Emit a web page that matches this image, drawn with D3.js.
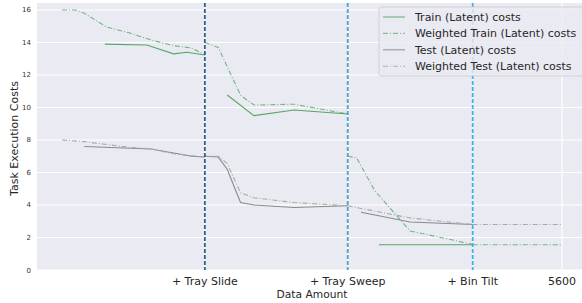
<!DOCTYPE html>
<html>
<head>
<meta charset="utf-8">
<script src="https://cdn.jsdelivr.net/npm/d3@7"></script>
<style>
  body { margin: 0; background: #fff; }
  svg { display: block; font-family: "DejaVu Sans", sans-serif; }
</style>
</head>
<body>
<svg id="chart" width="582" height="303"></svg>
<script>
// data amount (samples) vs. cost; null splits a series into per-task segments
const trainCosts = [
  [480, 13.9], [950, 13.85], [1250, 13.3], [1400, 13.4], [1600, 13.23], null,
  [1850, 10.77], [2150, 9.5], [2600, 9.85], [3200, 9.6], null,
  [3550, 1.55], [4600, 1.55]
];
const weightedTrainCosts = [
  [0, 16.0], [150, 16.0], [250, 15.8], [500, 14.95], [750, 14.6], [1000, 14.15],
  [1250, 13.8], [1450, 13.66], [1600, 13.23], null,
  [1600, 14.0], [1750, 13.7], [2000, 10.75], [2150, 10.15], [2600, 10.2], [3200, 9.6], null,
  [3200, 7.0], [3300, 6.9], [3500, 4.9], [3900, 2.4], [4600, 1.58], null,
  [4600, 1.55], [5600, 1.55]
];
const testCosts = [
  [250, 7.6], [1000, 7.45], [1250, 7.2], [1450, 7.0], [1600, 6.95], null,
  [1600, 7.0], [1750, 6.95], [1850, 6.2], [2000, 4.15], [2150, 4.0], [2600, 3.85], [3200, 3.95], null,
  [3350, 3.55], [3900, 2.95], [4600, 2.8]
];
const weightedTestCosts = [
  [0, 8.0], [250, 7.9], [750, 7.55], [1000, 7.45], [1250, 7.15], [1600, 6.95], null,
  [1600, 7.0], [1750, 7.0], [1850, 6.55], [2000, 4.75], [2150, 4.45], [2600, 4.15], [3200, 3.95], null,
  [3200, 3.95], [3900, 3.2], [4600, 2.8], null,
  [4600, 2.8], [5600, 2.8]
];

const taskMarks = [1600, 3200, 4600];
const xTickValues = [1600, 3200, 4600, 5600];
const xTickLabels = ["+ Tray Slide", "+ Tray Sweep", "+ Bin Tilt", "5600"];
const yTickValues = [0, 2, 4, 6, 8, 10, 12, 14, 16];
const taskColors = ["#31608b", "#4aa2c9", "#3cb3e4"];

const series = [
  { name: "Train (Latent) costs", data: trainCosts, color: "#55a868", dash: null, opacity: 1 },
  { name: "Weighted Train (Latent) costs", data: weightedTrainCosts, color: "#55a868", dash: "5,2,1,2", opacity: 0.8 },
  { name: "Test (Latent) costs", data: testCosts, color: "#7f7f7f", dash: null, opacity: 0.9 },
  { name: "Weighted Test (Latent) costs", data: weightedTestCosts, color: "#a8a8a8", dash: "5,2,1,2", opacity: 1 }
];

const svg = d3.select("#chart");
const L = 37, R = 587, T = 3, B = 270;

const x = d3.scaleLinear().domain([-280, 5880]).range([L, R]);
const y = d3.scaleLinear().domain([0, 16.43]).range([B, T]);

svg.append("rect")
  .attr("x", L).attr("y", T).attr("width", R - L).attr("height", B - T)
  .attr("fill", "#eaeaf2");

const grid = svg.append("g");
yTickValues.forEach(v =>
  grid.append("line")
    .attr("x1", L).attr("x2", R).attr("y1", y(v)).attr("y2", y(v))
    .attr("stroke", "#fff").attr("stroke-width", 1.2)
);
xTickValues.forEach(v =>
  grid.append("line")
    .attr("x1", x(v)).attr("x2", x(v)).attr("y1", T).attr("y2", B)
    .attr("stroke", "#fff").attr("stroke-width", 1.2)
);

// y ticks
svg.append("g").selectAll("text")
  .data(yTickValues).join("text")
  .attr("x", L - 6).attr("y", d => y(d) + 2.5)
  .attr("text-anchor", "end")
  .attr("font-size", 7).attr("fill", "#333")
  .text(d => d);

// x ticks
svg.append("g").selectAll("text")
  .data(xTickValues).join("text")
  .attr("x", d => x(d)).attr("y", 285)
  .attr("text-anchor", "middle")
  .attr("font-size", 11).attr("fill", "#262626")
  .text((d, i) => xTickLabels[i]);

svg.append("text")
  .attr("x", (L + R) / 2).attr("y", 298)
  .attr("text-anchor", "middle").attr("font-size", 10.7).attr("fill", "#262626")
  .text("Data Amount");

svg.append("text")
  .attr("transform", `translate(18,${(T + B) / 2 + 2}) rotate(-90)`)
  .attr("text-anchor", "middle").attr("font-size", 11).attr("fill", "#262626")
  .text("Task Execution Costs");

const line = d3.line()
  .defined(d => d != null)
  .x(d => x(d[0]))
  .y(d => y(d[1]));

const lineLayer = svg.append("g");
series.forEach(s =>
  lineLayer.append("path")
    .attr("d", line(s.data))
    .attr("fill", "none")
    .attr("stroke", s.color)
    .attr("stroke-width", 1.1)
    .attr("stroke-opacity", s.opacity)
    .attr("stroke-dasharray", s.dash)
);

// task boundaries
taskMarks.forEach((v, i) =>
  svg.append("line")
    .attr("x1", x(v)).attr("x2", x(v)).attr("y1", T).attr("y2", B)
    .attr("stroke", taskColors[i]).attr("stroke-width", 1.8)
    .attr("stroke-dasharray", "4,2")
);

// legend
const lg = svg.append("g").attr("transform", "translate(379,7)");
lg.append("rect")
  .attr("width", 206).attr("height", 69).attr("rx", 2.5)
  .attr("fill", "#eaeaf2").attr("fill-opacity", 0.8)
  .attr("stroke", "#cccccc").attr("stroke-width", 0.8);
series.forEach((s, i) => {
  const cy = 10 + i * 16.4;
  lg.append("line")
    .attr("x1", 4).attr("x2", 26).attr("y1", cy).attr("y2", cy)
    .attr("stroke", s.color).attr("stroke-width", 1.1)
    .attr("stroke-opacity", s.opacity * 0.85)
    .attr("stroke-dasharray", s.dash);
  lg.append("text")
    .attr("x", 36).attr("y", cy + 3.8)
    .attr("font-size", 11).attr("fill", "#262626")
    .text(s.name);
});
</script>
</body>
</html>
